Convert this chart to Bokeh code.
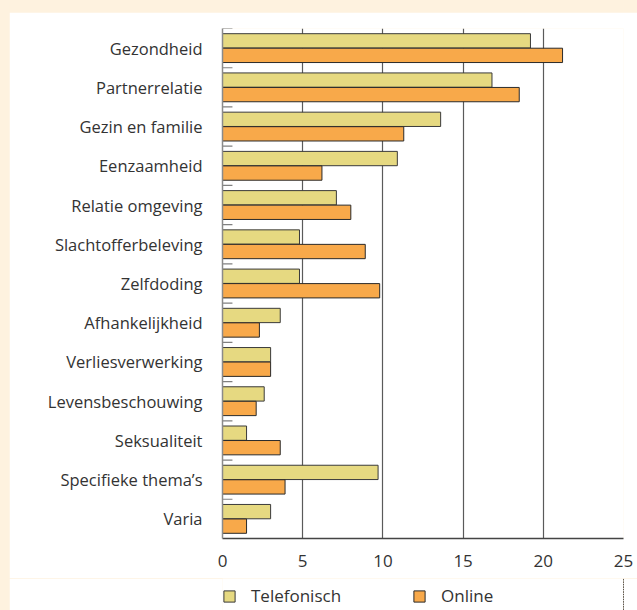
from bokeh.plotting import figure
from bokeh.layouts import column
from bokeh.models import ColumnDataSource, FactorRange, Range1d, FixedTicker, Legend, LegendItem
from bokeh.transform import dodge
from bokeh.embed import file_html
from bokeh.resources import INLINE

categories = ["Gezondheid", "Partnerrelatie", "Gezin en familie", "Eenzaamheid",
              "Relatie omgeving", "Slachtofferbeleving", "Zelfdoding", "Afhankelijkheid",
              "Verliesverwerking", "Levensbeschouwing", "Seksualiteit",
              "Specifieke thema\u2019s", "Varia"]
telefonisch = [19.2, 16.8, 13.6, 10.9, 7.1, 4.8, 4.8, 3.6, 3.0, 2.6, 1.5, 9.7, 3.0]
online = [21.2, 18.5, 11.3, 6.2, 8.0, 8.9, 9.8, 2.3, 3.0, 2.1, 3.6, 3.9, 1.5]
series_names = ["Telefonisch", "Online"]
x_ticks = [0, 5, 10, 15, 20, 25]

FONT = "Open Sans"
TEXT = "#333333"
TELE_COLOR = "#E6D981"
ONLINE_COLOR = "#F8A94A"
CREAM = "#FEF2DF"

src = ColumnDataSource(dict(cat=categories, tele=telefonisch, online=online,
                            zero=[0] * len(categories),
                            tick_end=[0.62] * len(categories)))

p = figure(width=628, height=566, output_backend="svg", toolbar_location=None,
           y_range=FactorRange(*reversed(categories)), x_range=Range1d(0, 25),
           min_border_left=213, min_border_right=14, min_border_top=16,
           min_border_bottom=40)
p.margin = (12, 0, 0, 9)
p.background_fill_color = "white"
p.border_fill_color = "white"
p.outline_line_color = None

r_tele = p.hbar(y=dodge("cat", 0.185, range=p.y_range), right="tele", left=0, height=0.365,
                source=src, fill_color=TELE_COLOR, line_color="#3a3a3a", line_width=1)
r_online = p.hbar(y=dodge("cat", -0.185, range=p.y_range), right="online", left=0, height=0.365,
                  source=src, fill_color=ONLINE_COLOR, line_color="#2a2a2a", line_width=1)

# category boundary ticks
p.segment(x0="zero", x1="tick_end", y0=dodge("cat", 0.5, range=p.y_range),
          y1=dodge("cat", 0.5, range=p.y_range), source=src, line_color="#808080", line_width=1.2)

p.ygrid.grid_line_color = None
p.xgrid.grid_line_color = "#5a5a5a"
p.xgrid.grid_line_width = 1.2
p.xaxis.ticker = FixedTicker(ticks=x_ticks)

p.xaxis.axis_line_color = "#444444"
p.xaxis.axis_line_width = 1.5
p.xaxis.major_tick_line_color = None
p.xaxis.minor_tick_line_color = None
p.xaxis.major_tick_out = 0
p.xaxis.major_tick_in = 0
p.xaxis.major_label_standoff = 16
p.xaxis.major_label_text_font = FONT
p.xaxis.major_label_text_font_size = "17px"
p.xaxis.major_label_text_color = TEXT

p.yaxis.axis_line_color = "#8a8a8a"
p.yaxis.axis_line_width = 1.5
p.yaxis.major_tick_line_color = None
p.yaxis.major_tick_out = 0
p.yaxis.major_tick_in = 0
p.yaxis.major_label_standoff = 20
p.yaxis.major_label_text_font = FONT
p.yaxis.major_label_text_font_size = "16.5px"
p.yaxis.major_label_text_color = TEXT

# legend strip below the chart (its bars lie outside its visible x range)
lg = figure(width=628, height=32, output_backend="svg", toolbar_location=None,
            x_range=Range1d(-2, -1), y_range=FactorRange(*categories),
            x_axis_location=None, y_axis_location=None, min_border=0,
            min_border_left=213, min_border_right=14)
lg.margin = (0, 0, 0, 9)
lg.background_fill_color = "white"
lg.border_fill_color = "white"
lg.outline_line_color = None
lg.grid.grid_line_color = None
k_tele = lg.hbar(y="cat", right="tele", left=0, height=0.365, source=src,
                 fill_color=TELE_COLOR, line_color="#3a3a3a", line_width=1)
k_online = lg.hbar(y="cat", right="online", left=0, height=0.365, source=src,
                   fill_color=ONLINE_COLOR, line_color="#2a2a2a", line_width=1)

legend = Legend(items=[LegendItem(label=series_names[0], renderers=[k_tele]),
                       LegendItem(label=series_names[1], renderers=[k_online])],
                orientation="horizontal", location=(0, 3))
legend.padding = 0
legend.margin = 0
legend.spacing = 0
legend.border_line_color = None
legend.background_fill_alpha = 0
legend.glyph_width = 14
legend.glyph_height = 14
legend.label_standoff = 15
legend.label_width = 161
legend.label_text_font = FONT
legend.label_text_font_size = "17px"
legend.label_text_color = TEXT
lg.add_layout(legend, "center")

layout = column(p, lg, spacing=0)
html = file_html(layout, INLINE)
html = html.replace("<head>", "<head><style>html,body{background:%s;}</style>" % CREAM, 1)
open("out.html", "w").write(html)
